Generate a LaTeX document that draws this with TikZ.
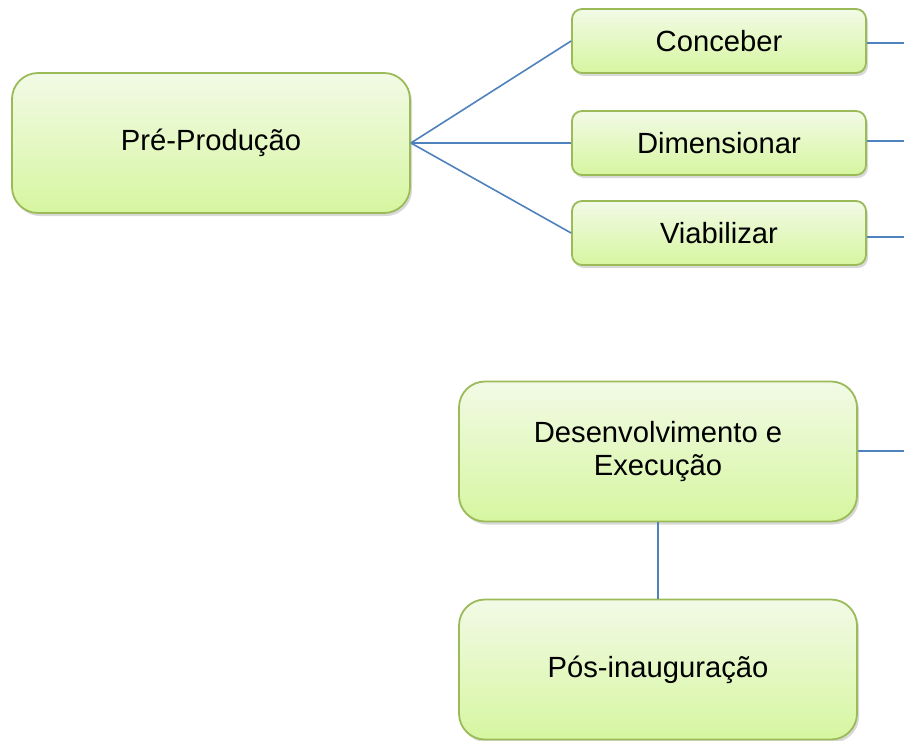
\documentclass[tikz,border=0pt]{standalone}
\usepackage{fontspec}
\setmainfont{Liberation Sans}
\usetikzlibrary{shadows}
\definecolor{boxtop}{RGB}{242,250,230}
\definecolor{boxbot}{RGB}{214,246,160}
\definecolor{boxline}{RGB}{155,187,89}
\definecolor{linkblue}{RGB}{79,129,189}

\begin{document}
\begin{tikzpicture}
	[x=0.5pt,y=-0.5pt,
	 every node/.style={draw=boxline, line width=0.9pt, top color=boxtop, bottom color=boxbot,
		drop shadow={shadow xshift=1pt, shadow yshift=-1.5pt, opacity=0.3},
		font=\fontsize{14.6}{16.7}\selectfont, align=center, inner sep=0pt},
	 bigbox/.style={minimum width=199pt, minimum height=70pt, rounded corners=13pt},
	 smallbox/.style={minimum width=147pt, minimum height=32pt, rounded corners=5pt},
	 link/.style={draw=linkblue, line width=0.8pt}]
	\useasboundingbox (0,0) rectangle (904,740);
	\node[bigbox] (pre) at (211,143) {Pré-Produção};
	\node[smallbox] (conc) at (719,41) {Conceber};
	\node[smallbox] (dim) at (719,143) {Dimensionar};
	\node[smallbox] (viab) at (719,233) {Viabilizar};
	\node[bigbox] (dev) at (658,451.5) {Desenvolvimento e\\Execução};
	\node[bigbox] (pos) at (658,669.5) {Pós-inauguração};
	
	\coordinate (e1) at (904,43);
	\coordinate (e2) at (904,141);
	\coordinate (e3) at (904,237);
	\coordinate (e4) at (904,451);
	
	\draw[link] (pre.east) -- (conc.west);
	\draw[link] (pre.east) -- (dim.west);
	\draw[link] (pre.east) -- (viab.west);
	\draw[link] (conc.east |- e1) -- (e1);
	\draw[link] (dim.east |- e2) -- (e2);
	\draw[link] (viab.east |- e3) -- (e3);
	\draw[link] (dev.east |- e4) -- (e4);
	\draw[link] (dev.south) -- (pos.north);
\end{tikzpicture}
\end{document}
